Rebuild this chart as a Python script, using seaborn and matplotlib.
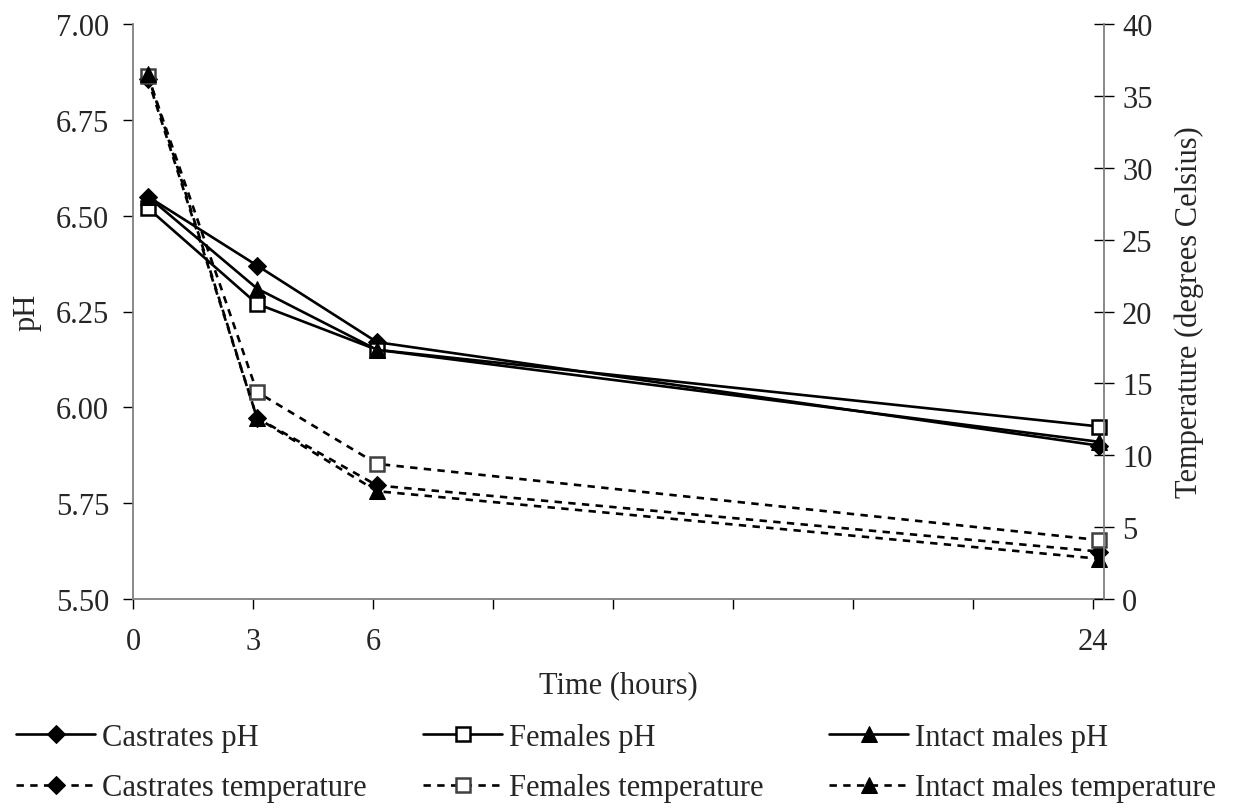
import matplotlib
matplotlib.use("Agg")
import matplotlib.pyplot as plt
import seaborn as sns
import pandas as pd

# Sampling times (hours post mortem)
time_h = [0.37, 3.1, 6.1, 24.15]

# Muscle pH by sex group
castrates_ph = [6.55, 6.37, 6.17, 5.90]
females_ph = [6.52, 6.27, 6.15, 5.95]
intact_ph = [6.55, 6.31, 6.15, 5.91]

# Carcass temperature (degrees Celsius) by sex group
castrates_temp = [36.2, 12.6, 7.9, 3.3]
females_temp = [36.4, 14.4, 9.4, 4.1]
intact_temp = [36.5, 12.6, 7.5, 2.8]

x_ticks = [0, 3, 6, 9, 12, 15, 18, 21, 24]
x_tick_labels = ["0", "3", "6", "", "", "", "", "", "24"]
ph_ticks = [5.50, 5.75, 6.00, 6.25, 6.50, 6.75, 7.00]
temp_ticks = [0, 5, 10, 15, 20, 25, 30, 35, 40]

FS = 22

sns.set_theme(style="white")
plt.rcParams["font.family"] = ["Liberation Serif", "DejaVu Serif"]
plt.rcParams["font.size"] = FS

fig = plt.figure(figsize=(12.41, 8.12), dpi=100)
ax = fig.add_axes([133 / 1241, 1 - 600 / 812, (1104 - 133) / 1241, 575 / 812])
ax2 = ax.twinx()

solid_kw = dict(color="black", linewidth=1.9, legend=False, clip_on=False)
dash_kw = dict(color="black", linewidth=1.9, linestyle=(0, (2.8, 2.4)),
               legend=False, clip_on=False)

series = [
    (ax, castrates_ph, "Castrates pH", solid_kw,
     dict(marker="D", markersize=9.5, markerfacecolor="black", markeredgecolor="black")),
    (ax, females_ph, "Females pH", solid_kw,
     dict(marker="s", markersize=10, markerfacecolor="white", markeredgecolor="black",
          markeredgewidth=1.8)),
    (ax, intact_ph, "Intact males pH", solid_kw,
     dict(marker="^", markersize=11, markerfacecolor="black", markeredgecolor="black")),
    (ax2, castrates_temp, "Castrates temperature", dash_kw,
     dict(marker="D", markersize=9.5, markerfacecolor="black", markeredgecolor="black")),
    (ax2, females_temp, "Females temperature", dash_kw,
     dict(marker="s", markersize=10, markerfacecolor="white", markeredgecolor="#404040",
          markeredgewidth=1.8)),
    (ax2, intact_temp, "Intact males temperature", dash_kw,
     dict(marker="^", markersize=11, markerfacecolor="black", markeredgecolor="black")),
]

handles = {}
for target, values, label, line_kw, mk in series:
    df = pd.DataFrame({"time": time_h, "value": values})
    sns.lineplot(data=df, x="time", y="value", ax=target, label=label, **line_kw, **mk)
    handles[label] = target.get_lines()[-1]

ax.set_xlim(0, 24.27)
ax.set_ylim(5.5, 7.0)
ax2.set_ylim(0, 40)

ax.set_xticks(x_ticks)
ax.set_xticklabels(x_tick_labels)
ax.set_yticks(ph_ticks)
ax.set_yticklabels([f"{v:.2f}" for v in ph_ticks])
ax2.set_yticks(temp_ticks)
ax2.set_yticklabels([str(v) for v in temp_ticks])

ax.set_xlabel("Time (hours)", fontsize=FS, labelpad=10)
ax.set_ylabel("pH", fontsize=FS, labelpad=10)
ax2.set_ylabel("Temperature (degrees Celsius)", fontsize=FS, labelpad=16)

for a in (ax, ax2):
    a.grid(False)
    a.set_facecolor("none")
    a.spines["top"].set_visible(False)
    for side in ("left", "right", "bottom"):
        a.spines[side].set_color("#808080")
        a.spines[side].set_linewidth(1.3)
ax.spines["right"].set_visible(False)
ax2.spines["left"].set_visible(False)
ax2.spines["bottom"].set_visible(False)

ax.tick_params(axis="x", direction="out", length=7.2, width=1, color="black",
               labelsize=FS, pad=13, bottom=True)
ax.tick_params(axis="y", direction="out", length=7.2, width=1, color="black",
               labelsize=FS, pad=10, left=True)
ax2.tick_params(axis="y", direction="inout", length=14, width=1, color="black",
                labelsize=FS, pad=6, right=True)

# One legend column per sex group, pH on the first row and temperature below
columns = [
    (16, ["Castrates pH", "Castrates temperature"]),
    (423, ["Females pH", "Females temperature"]),
    (829, ["Intact males pH", "Intact males temperature"]),
]
for x_px, labels in columns:
    fig.legend([handles[k] for k in labels], labels, loc="upper left",
               bbox_to_anchor=(x_px / 1241, 1 - 724 / 812), frameon=False,
               fontsize=FS, handlelength=2.6, handletextpad=0.2,
               labelspacing=0.7, borderpad=0, borderaxespad=0)

fig.savefig("out.png", dpi=100)
